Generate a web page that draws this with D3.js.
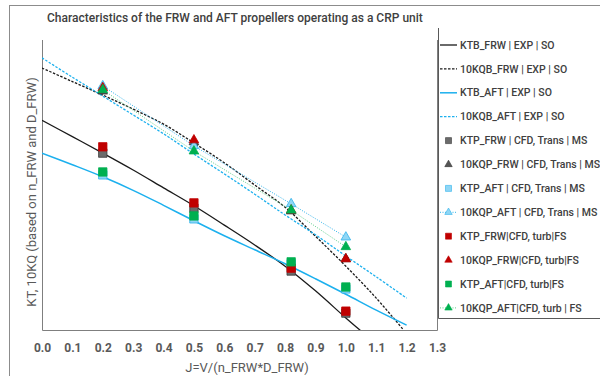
<!DOCTYPE html>
<html>
<head>
<meta charset="utf-8">
<script src="https://cdn.jsdelivr.net/npm/d3@7/dist/d3.min.js"></script>
<style>
  body { margin: 0; background: #fff; }
  text { font-family: Roboto, "Open Sans", sans-serif; }
</style>
</head>
<body>
<div class="vis-crp"></div>
<script>
// open water (EXP | SO) curves
const ktbFrwJ = [0, 0.1, 0.2, 0.3, 0.4, 0.5, 0.6, 0.7, 0.8, 0.9, 1.0, 1.05];
const ktbFrw = [0.434, 0.400, 0.366, 0.331, 0.294, 0.257, 0.217, 0.176, 0.132, 0.081, 0.025, -0.002];

const kqbFrwJ = [0, 0.1, 0.2, 0.3, 0.4, 0.5, 0.6, 0.7, 0.8, 0.9, 1.0, 1.1, 1.19];
const kqbFrw = [0.542, 0.514, 0.486, 0.457, 0.426, 0.387, 0.346, 0.300, 0.254, 0.194, 0.132, 0.066, 0.000];

const ktbAftJ = [0, 0.1, 0.2, 0.3, 0.4, 0.5, 0.6, 0.7, 0.8, 0.9, 1.0, 1.1, 1.2];
const ktbAft = [0.366, 0.342, 0.317, 0.289, 0.258, 0.226, 0.195, 0.166, 0.137, 0.106, 0.074, 0.041, 0.010];

const kqbAftJ = [0, 0.1, 0.2, 0.3, 0.4, 0.5, 0.6, 0.7, 0.8, 0.9, 1.0, 1.1, 1.2];
const kqbAft = [0.563, 0.523, 0.484, 0.445, 0.406, 0.364, 0.323, 0.281, 0.238, 0.197, 0.153, 0.110, 0.066];

// CFD points
const cfdJ = [0.2, 0.5, 0.82, 1.0];
const ktpFrwTrans = [0.366, 0.252, 0.122, 0.035];
const kqpFrwTrans = [0.494, 0.389, 0.246, 0.147];
const ktpAftTrans = [0.321, 0.230, 0.137, 0.085];
const kqpAftTrans = [0.505, 0.381, 0.261, 0.192];
const ktpFrwTurb = [0.379, 0.263, 0.128, 0.039];
const kqpFrwTurb = [0.501, 0.393, 0.248, 0.147];
const ktpAftTurb = [0.327, 0.236, 0.141, 0.089];
const kqpAftTurb = [0.497, 0.370, 0.248, 0.172];

const xTicks = [0, 0.1, 0.2, 0.3, 0.4, 0.5, 0.6, 0.7, 0.8, 0.9, 1.0, 1.1, 1.2, 1.3];
const legendNames = [
  'KTB_FRW | EXP | SO',
  '10KQB_FRW | EXP | SO',
  'KTB_AFT | EXP | SO',
  '10KQB_AFT | EXP | SO',
  'KTP_FRW | CFD, Trans | MS',
  '10KQP_FRW | CFD, Trans | MS',
  'KTP_AFT | CFD, Trans | MS',
  '10KQP_AFT | CFD, Trans | MS',
  'KTP_FRW|CFD, turb|FS',
  '10KQP_FRW|CFD, turb|FS',
  'KTP_AFT|CFD, turb|FS',
  '10KQP_AFT|CFD, turb | FS'
];

const zip = (xs, ys) => xs.map((x, i) => ({ j: x, v: ys[i] }));

// draw order = legend order
const series = [
  { type: 'line', data: zip(ktbFrwJ, ktbFrw), stroke: '#1a1a1a', width: 1.3, dash: null },
  { type: 'line', data: zip(kqbFrwJ, kqbFrw), stroke: '#1a1a1a', width: 1.3, dash: '2.5,1.5' },
  { type: 'line', data: zip(ktbAftJ, ktbAft), stroke: '#1cb0ee', width: 1.5, dash: null },
  { type: 'line', data: zip(kqbAftJ, kqbAft), stroke: '#1cb0ee', width: 1.3, dash: '2.5,1.5' },
  { type: 'mark', data: zip(cfdJ, ktpFrwTrans), symbol: d3.symbolSquare, fill: '#6b6b6b', stroke: '#3a3a3a' },
  { type: 'mark', data: zip(cfdJ, kqpFrwTrans), symbol: d3.symbolTriangle, fill: '#555', stroke: '#333' },
  { type: 'mark', data: zip(cfdJ, ktpAftTrans), symbol: d3.symbolSquare, fill: '#8fd6f5', stroke: '#2fb3ec' },
  { type: 'mark', data: zip(cfdJ, kqpAftTrans), symbol: d3.symbolTriangle, fill: '#8fd6f5', stroke: '#2fb3ec', link: '#2fb3ec' },
  { type: 'mark', data: zip(cfdJ, ktpFrwTurb), symbol: d3.symbolSquare, fill: '#c00000', stroke: '#c00000' },
  { type: 'mark', data: zip(cfdJ, kqpFrwTurb), symbol: d3.symbolTriangle, fill: '#c00000', stroke: '#c00000' },
  { type: 'mark', data: zip(cfdJ, ktpAftTurb), symbol: d3.symbolSquare, fill: '#00b050', stroke: '#00b050' },
  { type: 'mark', data: zip(cfdJ, kqpAftTurb), symbol: d3.symbolTriangle, fill: '#00b050', stroke: '#00b050', link: '#5fcf8a' }
];

const W = 600, H = 376;
const plot = { left: 42, right: 437, top: 40, bottom: 330 };

const svg = d3.select('.vis-crp').append('svg')
  .attr('width', W)
  .attr('height', H);

// chart frame
svg.append('rect')
  .attr('x', 9.5).attr('y', 5.5)
  .attr('width', W).attr('height', H)
  .attr('fill', 'none').attr('stroke', '#8c8c8c');

svg.append('text')
  .attr('x', 47).attr('y', 22)
  .attr('font-size', 12).attr('font-weight', 500)
  .attr('fill', '#404040')
  .text('Characteristics of the FRW and AFT propellers operating as a CRP unit');

const x = d3.scaleLinear().domain([0, 1.3]).range([plot.left, plot.right]);
const y = d3.scaleLinear().domain([0, 0.6]).range([plot.bottom, plot.top]);

svg.append('clipPath').attr('id', 'clip')
  .append('rect')
  .attr('x', plot.left).attr('y', plot.top - 10)
  .attr('width', plot.right - plot.left).attr('height', plot.bottom - plot.top + 10);

// plot border (left, bottom, right)
svg.append('path')
  .attr('d', `M${plot.left + 0.5},${plot.top}V${plot.bottom + 0.5}H${plot.right + 0.5}V${plot.top}`)
  .attr('fill', 'none').attr('stroke', '#7f7f7f').attr('stroke-width', 1);

const xAxis = d3.axisBottom(x)
  .tickValues(xTicks)
  .tickSize(0)
  .tickPadding(13)
  .tickFormat(d3.format('.1f'));

const gX = svg.append('g')
  .attr('transform', `translate(0, ${plot.bottom})`)
  .call(xAxis);
gX.select('.domain').remove();
gX.selectAll('text')
  .attr('font-family', 'Roboto, sans-serif')
  .attr('font-size', 12).attr('font-weight', 700)
  .attr('fill', '#595959');

svg.append('text')
  .attr('x', 247).attr('y', 372)
  .attr('text-anchor', 'middle')
  .attr('font-size', 13).attr('fill', '#595959')
  .text('J=V/(n_FRW*D_FRW)');

svg.append('text')
  .attr('transform', 'translate(36, 192) rotate(-90)')
  .attr('text-anchor', 'middle')
  .attr('font-size', 13).attr('fill', '#595959')
  .text('KT, 10KQ (based on n_FRW and D_FRW)');

const graph = svg.append('g').attr('clip-path', 'url(#clip)');

const line = d3.line()
  .x(d => x(d.j))
  .y(d => y(d.v))
  .curve(d3.curveCatmullRom);

const straight = d3.line()
  .x(d => x(d.j))
  .y(d => y(d.v));

series.forEach(s => {
  if (s.type === 'line') {
    graph.append('path')
      .datum(s.data)
      .attr('d', line)
      .attr('fill', 'none')
      .attr('stroke', s.stroke)
      .attr('stroke-width', s.width)
      .attr('stroke-dasharray', s.dash);
  } else {
    if (s.link) {
      graph.append('path')
        .datum(s.data)
        .attr('d', straight)
        .attr('fill', 'none')
        .attr('stroke', s.link)
        .attr('stroke-width', 1)
        .attr('stroke-dasharray', '1,1.5');
    }
    const size = s.symbol === d3.symbolSquare ? 70 : 40;
    graph.selectAll(null)
      .data(s.data)
      .enter()
      .append('path')
      .attr('transform', d => `translate(${x(d.j)}, ${y(d.v)})`)
      .attr('d', d3.symbol(s.symbol, size))
      .attr('fill', s.fill)
      .attr('stroke', s.stroke)
      .attr('stroke-width', 0.8);
  }
});

// legend
const legend = svg.append('g');
legend.append('path')
  .attr('d', `M${W + 5},${318.5}H${438.5}V${28}`)
  .attr('fill', 'none').attr('stroke', '#595959').attr('stroke-width', 1);

series.forEach((s, i) => {
  const ly = 45 + i * 23.9;
  const row = legend.append('g').attr('transform', `translate(0, ${ly})`);
  if (s.type === 'line' || s.link) {
    row.append('line')
      .attr('x1', 440).attr('x2', 457)
      .attr('stroke', s.type === 'line' ? s.stroke : s.link)
      .attr('stroke-width', s.type === 'line' ? s.width : 1)
      .attr('stroke-dasharray', s.type === 'line' ? s.dash : '1,1.5');
  }
  if (s.type === 'mark') {
    row.append('path')
      .attr('transform', 'translate(448.5, 0)')
      .attr('d', d3.symbol(s.symbol, s.symbol === d3.symbolSquare ? 36 : 24))
      .attr('fill', s.fill)
      .attr('stroke', s.stroke)
      .attr('stroke-width', 0.6);
  }
  row.append('text')
    .attr('x', 460).attr('y', 0).attr('dy', '0.35em')
    .attr('font-size', 10.5).attr('font-weight', 500)
    .attr('fill', '#404040')
    .text(legendNames[i]);
});
</script>
</body>
</html>
